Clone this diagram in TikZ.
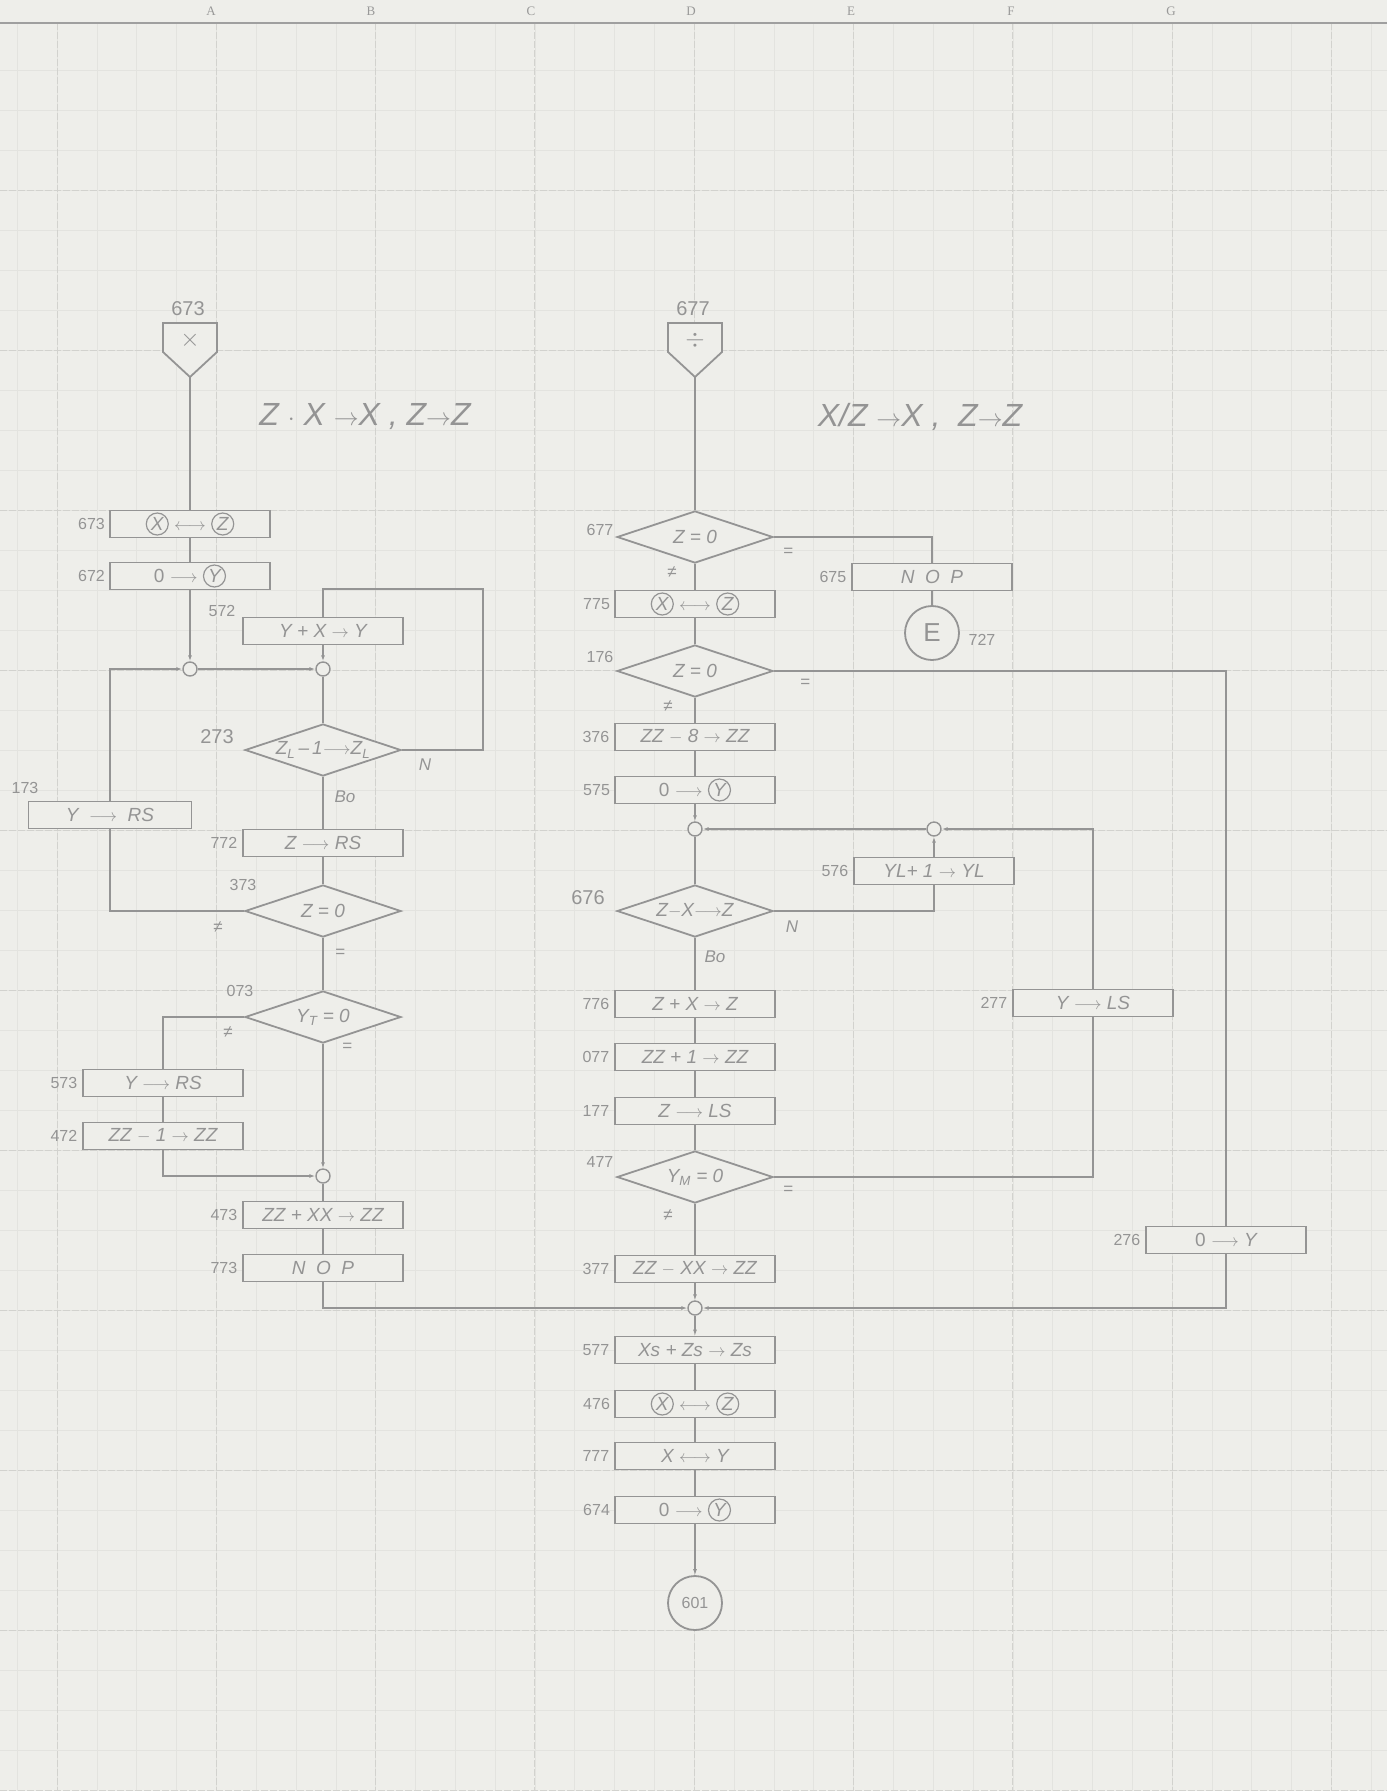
\documentclass[tikz,border=0pt]{standalone}
\usepackage{fontspec}
\setmainfont{Liberation Sans}
\newfontfamily\headfont{Liberation Serif}
\usetikzlibrary{positioning, arrows.meta, shapes.geometric}
\definecolor{ink}{RGB}{148,148,148}
\definecolor{paper}{RGB}{238,238,234}
\definecolor{gridmajor}{RGB}{210,210,206}
\definecolor{gridminor}{RGB}{227,227,223}
\newcommand{\ringed}[1]{\tikz[baseline=(r.base)]\node[circle, draw=ink, fill=paper, line width=1.2pt, inner sep=0pt, minimum size=22pt, text=ink] (r) {#1};}

\begin{document}
\begin{tikzpicture}[
  x=1pt, y=-1pt,
  color=ink,
  >={Latex[length=6pt,width=4pt]},
  line width=1.8pt,
  opbox/.style={draw=ink, fill=paper, minimum width=160pt, minimum height=27pt, inner sep=0pt, text=ink, font=\fontsize{19}{20}\selectfont\itshape},
  test/.style={diamond, draw=ink, fill=paper, minimum width=156pt, minimum height=52pt, inner sep=0pt},
  dtext/.style={text=ink, inner sep=0pt, font=\fontsize{19}{20}\selectfont\itshape},
  joint/.style={circle, draw=ink, fill=paper, minimum size=14pt, inner sep=0pt, line width=1.4pt},
  term/.style={circle, draw=ink, fill=paper, minimum size=54pt, inner sep=0pt, text=ink},
  num/.style={text=ink, inner sep=1pt, font=\fontsize{16}{17}\selectfont},
  bignum/.style={text=ink, inner sep=1pt, font=\fontsize{20}{22}\selectfont},
  cond/.style={text=ink, inner sep=1pt, font=\fontsize{17}{18}\selectfont\itshape},
  headline/.style={text=ink, font=\fontsize{32}{34}\selectfont\itshape},
  label distance=3pt
]
\useasboundingbox (0,0) rectangle (1387,1791);
\fill[paper] (0,0) rectangle (1387,1791);

% squared paper
\foreach \i in {0,...,34} \draw[gridminor, line width=0.6pt] ({17.2+39.825*\i},23) -- ({17.2+39.825*\i},1791);
\foreach \i in {1,...,43} \draw[gridminor, line width=0.6pt] (0,{30+40*\i}) -- (1387,{30+40*\i});
\foreach \i in {0,...,8} \draw[gridmajor, line width=1pt, dash pattern=on 7pt off 2pt] ({57+159.3*\i},23) -- ({57+159.3*\i},1791);
\foreach \i in {1,...,11} \draw[gridmajor, line width=1pt, dash pattern=on 7pt off 2pt] (0,{30+160*\i}) -- (1387,{30+160*\i});
\draw[line width=2pt, color=gray!75] (0,23) -- (1387,23);
\foreach \c [count=\i from 0] in {A,B,C,D,E,F,G}
  \node[text=gray!80, font=\headfont\fontsize{13}{14}\selectfont] (col\c) at ({211+160*\i},11) {\c};

% multiply: entry 673
\draw[fill=paper] (163,323) -- (217,323) -- (217,352) -- (190,377) -- (163,352) -- cycle;
\coordinate (s673) at (190,377);
\node[text=ink, font=\fontsize{24}{24}\selectfont] (x673) at (190,340) {$\times$};
\node[bignum] (n673) at (188,309) {673};
\node[headline] (h673) at (365,417) {Z $\cdot$ X $\rightarrow$X , Z$\rightarrow$Z};

\node[opbox, label={[num]left:673}] (b673) at (190,524) {\ringed{X} $\longleftrightarrow$ \ringed{Z}};
\node[opbox, label={[num]left:672}] (b672) at (190,576) {{\upshape 0} $\longrightarrow$ \ringed{Y}};
\node[joint] (J1) at (190,669) {};
\node[joint] (J2) at (323,669) {};
\node[opbox] (b572) at (323,631) {Y + X $\rightarrow$ Y};
\node[num] (n572) at (222,611) {572};
\coordinate (k273) at (483,589);
\node[test, label={[dtext]center:Z\textsubscript{L}\,--\,1$\longrightarrow$Z\textsubscript{L}}] (d273) at (323,750) {};
\node[bignum] (n273) at (217,737) {273};
\node[opbox, label={[num]left:772}] (b772) at (323,843) {Z $\longrightarrow$ RS};
\node[test, label={[dtext]center:Z = 0}] (d373) at (323,911) {};
\node[num] (n373) at (243,885) {373};
\node[opbox, minimum width=163pt] (b173) at (110,815) {Y \ $\longrightarrow$ \ RS};
\node[num] (n173) at (25,788) {173};
\node[test, label={[dtext]center:Y\textsubscript{T} = 0}] (d073) at (323,1017) {};
\node[num] (n073) at (240,991) {073};
\node[opbox, label={[num]left:573}] (b573) at (163,1083) {Y $\longrightarrow$ RS};
\node[opbox, label={[num]left:472}] (b472) at (163,1136) {ZZ $-$ 1 $\rightarrow$ ZZ};
\node[joint] (J3) at (323,1176) {};
\node[opbox, label={[num]left:473}] (b473) at (323,1215) {ZZ + XX $\rightarrow$ ZZ};
\node[opbox, label={[num]left:773}] (b773) at (323,1268) {N \ O \ P};

\node[cond] (eN1) at (425,765) {N};
\node[cond] (eB1) at (345,797) {Bo};
\node[cond] (eU1) at (218,927) {≠};
\node[cond] (eE1) at (340,953) {=};
\node[cond] (eU2) at (228,1032) {≠};
\node[cond] (eE2) at (347,1047) {=};

% divide: entry 677
\draw[fill=paper] (668,323) -- (722,323) -- (722,352) -- (695,377) -- (668,352) -- cycle;
\coordinate (s677) at (695,377);
\node[text=ink, font=\fontsize{24}{24}\selectfont] (x677) at (695,340) {$\div$};
\node[bignum] (n677) at (693,309) {677};
\node[headline] (h677) at (920,417) {X/Z $\rightarrow$X , \ Z$\rightarrow$Z};

\node[test, label={[dtext]center:Z = 0}] (d677) at (695,537) {};
\node[num] (m677) at (600,530) {677};
\node[opbox, label={[num]left:675}] (b675) at (932,577) {N \ O \ P};
\node[term, font=\fontsize{26}{26}\selectfont] (cE) at (932,633) {E};
\node[num] (n727) at (982,640) {727};
\node[opbox, label={[num]left:775}] (b775) at (695,604) {\ringed{X} $\longleftrightarrow$ \ringed{Z}};
\node[test, label={[dtext]center:Z = 0}] (d176) at (695,671) {};
\node[num] (n176) at (600,657) {176};
\node[opbox, label={[num]left:376}] (b376) at (695,737) {ZZ $-$ 8 $\rightarrow$ ZZ};
\node[opbox, label={[num]left:575}] (b575) at (695,790) {{\upshape 0} $\longrightarrow$ \ringed{Y}};
\node[joint] (J4) at (695,829) {};
\node[joint] (J5) at (934,829) {};
\node[opbox, label={[num]left:576}] (b576) at (934,871) {YL+ 1 $\rightarrow$ YL};
\node[test, label={[dtext]center:Z$-$X$\longrightarrow$Z}] (d676) at (695,911) {};
\node[bignum] (n676) at (588,898) {676};
\node[opbox, label={[num]left:776}] (b776) at (695,1004) {Z + X $\rightarrow$ Z};
\node[opbox, label={[num]left:077}] (b077) at (695,1057) {ZZ + 1 $\rightarrow$ ZZ};
\node[opbox, label={[num]left:177}] (b177) at (695,1111) {Z $\longrightarrow$ LS};
\node[test, label={[dtext]center:Y\textsubscript{M} = 0}] (d477) at (695,1177) {};
\node[num] (n477) at (600,1162) {477};
\node[opbox, label={[num]left:277}] (b277) at (1093,1003) {Y $\longrightarrow$ LS};
\node[opbox, label={[num]left:276}] (b276) at (1226,1240) {{\upshape 0} $\longrightarrow$ Y};
\node[opbox, label={[num]left:377}] (b377) at (695,1269) {ZZ $-$ XX $\rightarrow$ ZZ};
\node[joint] (JM) at (695,1308) {};
\node[opbox, label={[num]left:577}] (b577) at (695,1350) {Xs + Zs $\rightarrow$ Zs};
\node[opbox, label={[num]left:476}] (b476) at (695,1404) {\ringed{X} $\longleftrightarrow$ \ringed{Z}};
\node[opbox, label={[num]left:777}] (b777) at (695,1456) {X $\longleftrightarrow$ Y};
\node[opbox, label={[num]left:674}] (b674) at (695,1510) {{\upshape 0} $\longrightarrow$ \ringed{Y}};
\node[term, font=\fontsize{16}{16}\selectfont] (c601) at (695,1603) {601};

\node[cond] (eE3) at (788,552) {=};
\node[cond] (eU3) at (672,572) {≠};
\node[cond] (eE4) at (805,683) {=};
\node[cond] (eU4) at (668,706) {≠};
\node[cond] (eN2) at (792,927) {N};
\node[cond] (eB2) at (715,957) {Bo};
\node[cond] (eE5) at (788,1190) {=};
\node[cond] (eU5) at (668,1215) {≠};

% connectors, left
\draw (s673) -- (b673);
\draw (b673) -- (b672);
\draw[->] (b672) -- (J1);
\draw[->] (J1) -- (J2);
\draw[->] (b572) -- (J2);
\draw (J2) -- (d273);
\draw (d273.east) -| (k273) -| (b572.north);
\draw (d273) -- (b772);
\draw (b772) -- (d373);
\draw (d373.west) -| (b173.south);
\draw[->] (b173.north) |- (J1);
\draw (d373) -- (d073);
\draw (d073.west) -| (b573.north);
\draw (b573) -- (b472);
\draw[->] (b472.south) |- (J3);
\draw[->] (d073) -- (J3);
\draw (J3) -- (b473);
\draw (b473) -- (b773);
\draw[->] (b773.south) |- (JM);

% connectors, right
\draw (s677) -- (d677);
\draw (d677) -- (b775);
\draw (d677.east) -| (b675.north);
\draw (b675) -- (cE);
\draw (b775) -- (d176);
\draw (d176) -- (b376);
\draw (d176.east) -| (b276.north);
\draw[->] (b276.south) |- (JM);
\draw (b376) -- (b575);
\draw[->] (b575) -- (J4);
\draw (J4) -- (d676);
\draw (d676.east) -| (b576.south);
\draw[->] (b576) -- (J5);
\draw[->] (J5) -- (J4);
\draw (d676) -- (b776);
\draw (b776) -- (b077);
\draw (b077) -- (b177);
\draw (b177) -- (d477);
\draw (d477.east) -| (b277.south);
\draw[->] (b277.north) |- (J5);
\draw (d477) -- (b377);
\draw[->] (b377) -- (JM);
\draw[->] (JM) -- (b577);
\draw (b577) -- (b476);
\draw (b476) -- (b777);
\draw (b777) -- (b674);
\draw[->] (b674) -- (c601);
\end{tikzpicture}
\end{document}
